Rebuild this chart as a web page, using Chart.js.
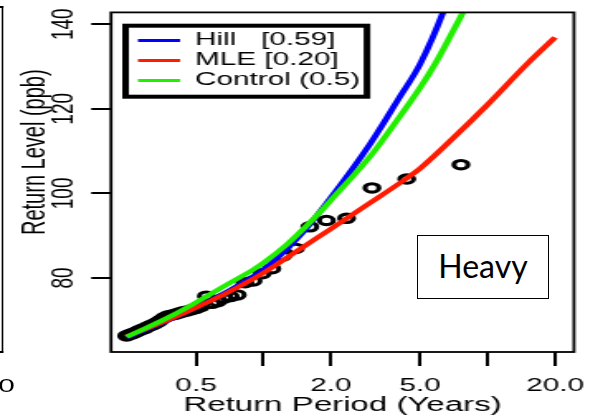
<!DOCTYPE html>
<html>
<head>
<meta charset="utf-8">
<script src="https://cdn.jsdelivr.net/npm/chart.js@4.4.1/dist/chart.umd.min.js"></script>
<style>
  html, body { margin: 0; padding: 0; background: #fff; }
  #stage { position: relative; width: 608px; height: 420px; overflow: hidden; background: #fff; }
  #wrap { position: absolute; left: 0; top: 0; width: 368px; height: 420px; transform: scaleX(1.6522); transform-origin: 0 0; }
  #prevFrame { position: absolute; left: -8px; top: 6px; width: 10px; height: 347px; box-sizing: border-box;
               border-top: 2.7px solid #000; border-bottom: 2.7px solid #000; border-right: 1.6px solid #000; }
  #prevLabel { position: absolute; left: -1px; top: 377px; font: 18px/18px "Liberation Sans", Arial, sans-serif; color: #000; }
  #heavy { position: absolute; left: 417px; top: 235px; width: 132px; height: 64px; box-sizing: border-box;
           border: 1.3px solid #000; background: #fff; display: flex; align-items: center; justify-content: center;
           font: 32px Lato, "Open Sans", sans-serif; color: #000; padding-bottom: 4px; }
</style>
</head>
<body>
<div id="stage">
  <div id="wrap">
    <div id="prevFrame"></div>
    <div id="prevLabel">0</div>
    <canvas id="c" width="368" height="420"></canvas>
  </div>
  <div id="heavy">Heavy</div>
</div>
<script>
// ---- data ----
const xTickValues = [0.5, 1, 2, 5, 10, 20];
const xTickLabels = ['0.5', '', '2.0', '5.0', '', '20.0'];
const yTickValues = [80, 100, 120, 140];
const seriesLabels = ['Hill   [0.59]', 'MLE [0.20]', 'Control (0.5)'];

const hillX = [0.245, 0.3, 0.4, 0.5, 0.7, 0.84, 1.0, 1.2, 1.5, 2.0, 3.0, 3.43, 4.0, 5.0, 6.33, 7.0];
const hillY = [66.0, 67.8, 70.6, 73.0, 77.0, 79.4, 82.0, 85.6, 90.8, 99.0, 111.8, 116.6, 122.3, 130.6, 142.8, 149.5];

const mleX = [0.245, 0.3, 0.4, 0.5, 0.7, 1.0, 1.5, 2.0, 3.0, 4.36, 5.0, 7.0, 10.0, 15.0, 20.0];
const mleY = [66.2, 68.0, 70.7, 73.0, 76.7, 81.2, 87.3, 91.6, 97.8, 103.6, 105.9, 113.0, 121.0, 130.6, 136.9];

const ctrlX = [0.245, 0.3, 0.4, 0.5, 0.7, 0.9, 1.0, 1.27, 1.5, 1.79, 2.0, 3.0, 3.86, 5.0, 5.83, 7.0, 7.77, 8.5];
const ctrlY = [66.1, 68.2, 71.4, 74.2, 78.7, 82.0, 83.6, 87.9, 91.5, 95.6, 98.4, 108.8, 116.6, 125.0, 130.6, 138.3, 142.8, 147.0];

const obsX = [0.245, 0.252, 0.258, 0.265, 0.272, 0.280, 0.288, 0.296, 0.305, 0.315,
              0.325, 0.336, 0.347, 0.360, 0.373, 0.387, 0.402, 0.419,
              0.437, 0.456, 0.478, 0.501, 0.527, 0.556, 0.588, 0.624, 0.665, 0.711,
              0.764, 0.826, 0.899, 0.986, 1.09, 1.22, 1.39, 1.61, 1.91, 2.35,
              3.05, 4.36, 7.61];
const obsY = [66.3, 66.6, 66.8, 67.0, 67.3, 67.6, 67.9, 68.1, 68.5, 68.8,
              69.1, 69.5, 70.0, 70.6, 71.0, 71.2, 71.4, 71.7,
              72.0, 72.2, 72.5, 72.8, 73.3, 75.7, 74.0, 74.4, 75.2, 75.6,
              76.0, 78.9, 79.3, 81.0, 82.2, 85.2, 87.0, 92.1, 93.6, 94.1,
              101.3, 103.4, 106.8];

const pts = (xs, ys) => xs.map((x, i) => ({ x: x, y: ys[i] }));

Chart.defaults.font.family = '"Liberation Sans", Arial, Helvetica, sans-serif';
Chart.defaults.color = '#000';

const framePlugin = {
  id: 'frame',
  afterDatasetsDraw(chart) {
    const ca = chart.chartArea, ctx = chart.ctx;
    ctx.save();
    ctx.strokeStyle = '#000';
    ctx.lineWidth = 1.8;
    ctx.strokeRect(ca.left, ca.top, ca.right - ca.left, ca.bottom - ca.top);
    ctx.lineWidth = 4;
    ctx.strokeRect(ca.left + 8.8, ca.top + 13.3, 146.1, 71.0);
    ctx.restore();
  }
};

const legendPlace = {
  id: 'legendPlace',
  afterLayout(chart) {
    const lg = chart.legend, ca = chart.chartArea;
    if (!lg) return;
    const w = lg.width, h = lg.height;
    lg.left = ca.left + 14.3;
    lg.top = ca.top + 17;
    lg.right = lg.left + w;
    lg.bottom = lg.top + h;
  }
};

const titleShift = {
  id: 'titleShift',
  beforeDraw(chart) {
    const s = chart.scales.y;
    if (s && !s.__shifted) {
      const orig = s.drawTitle;
      s.drawTitle = function () {
        const t = this.top, b = this.bottom;
        this.top = t - 30; this.bottom = b - 30;
        orig.call(this);
        this.top = t; this.bottom = b;
      };
      s.__shifted = true;
    }
  }
};

const lineStyle = { borderWidth: 4, pointRadius: 0, cubicInterpolationMode: 'monotone', clip: 0, fill: false };

new Chart(document.getElementById('c'), {
  type: 'line',
  data: {
    datasets: [
      Object.assign({ label: seriesLabels[0], data: pts(hillX, hillY), borderColor: '#0000ff', backgroundColor: '#0000ff', order: 2 }, lineStyle),
      Object.assign({ label: seriesLabels[1], data: pts(mleX, mleY), borderColor: '#ff1a00', backgroundColor: '#ff1a00', order: 1 }, lineStyle),
      Object.assign({ label: seriesLabels[2], data: pts(ctrlX, ctrlY), borderColor: '#22ee00', backgroundColor: '#22ee00', order: 0 }, lineStyle),
      { label: 'Observed', data: pts(obsX, obsY), showLine: false, pointStyle: 'circle', pointRadius: 4.2,
        pointBorderWidth: 3.1, borderColor: '#000', backgroundColor: 'rgba(0,0,0,0)', order: 3 }
    ]
  },
  options: {
    responsive: false,
    animation: false,
    events: [],
    layout: { padding: { left: 0, top: 8, right: 20.6, bottom: 0 } },
    scales: {
      x: {
        type: 'logarithmic', min: 0.2088, max: 24.31,
        afterFit(s) { s.height = 68; },
        afterBuildTicks(s) { s.ticks = xTickValues.map(v => ({ value: v })); },
        ticks: {
          autoSkip: false, maxRotation: 0, minRotation: 0, padding: 9, font: { size: 18 }, color: '#000',
          callback: (v) => { const i = xTickValues.indexOf(Number(v)); return i >= 0 ? xTickLabels[i] : ''; }
        },
        grid: { drawOnChartArea: false, drawTicks: true, tickLength: 14, color: '#000', lineWidth: 2 },
        border: { display: false },
        title: { display: true, text: 'Return Period (Years)', font: { size: 20 }, color: '#000', padding: { top: 0, bottom: 3 } }
      },
      y: {
        type: 'linear', min: 62.5, max: 142.8,
        afterFit(s) { s.width = 67.2; },
        afterBuildTicks(s) { s.ticks = yTickValues.map(v => ({ value: v })); },
        ticks: { minRotation: 90, maxRotation: 90, crossAlign: 'center', padding: 1, font: { size: 19 }, color: '#000' },
        grid: { drawOnChartArea: false, drawTicks: true, tickLength: 12, color: '#000', lineWidth: 2 },
        border: { display: false },
        title: { display: true, text: 'Return Level (ppb)', font: { size: 20 }, color: '#000', padding: { top: 9, bottom: 0 } }
      }
    },
    plugins: {
      legend: {
        position: 'chartArea', align: 'start',
        labels: {
          usePointStyle: true, pointStyle: 'line', pointStyleWidth: 25.5, padding: 2,
          font: { size: 18 }, color: '#000',
          filter: (item) => item.datasetIndex < 3,
          sort: (a, b) => a.datasetIndex - b.datasetIndex,
          generateLabels(chart) {
            const items = Chart.defaults.plugins.legend.labels.generateLabels(chart);
            items.forEach(it => { it.lineWidth = 3; });
            return items;
          }
        }
      },
      tooltip: { enabled: false }
    }
  },
  plugins: [framePlugin, legendPlace, titleShift]
});
</script>
</body>
</html>
